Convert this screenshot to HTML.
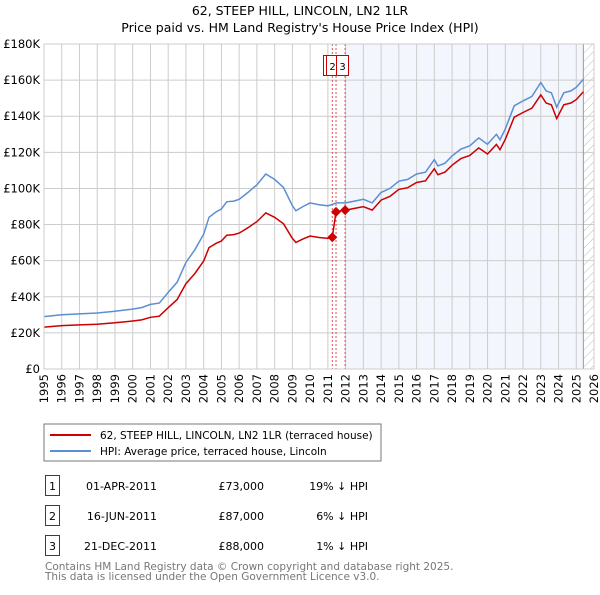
<!DOCTYPE html>
<html><head><meta charset="utf-8"><style>
body{margin:0;background:#fff;font-family:"Liberation Sans","DejaVu Sans",sans-serif;}
svg text{font-family:"DejaVu Sans","Liberation Sans",sans-serif;}
</style></head><body>
<svg id="c" width="600" height="590" xmlns="http://www.w3.org/2000/svg">
<defs><pattern id="hatch" width="6" height="6" patternUnits="userSpaceOnUse" patternTransform="rotate(45)"><line x1="0" y1="0" x2="0" y2="6" stroke="#bbb" stroke-width="1"/></pattern></defs>
<text x="300" y="15" text-anchor="middle" font-size="12.5" fill="#000">62, STEEP HILL, LINCOLN, LN2 1LR</text>
<text x="300" y="32" text-anchor="middle" font-size="12.5" fill="#000">Price paid vs. HM Land Registry's House Price Index (HPI)</text>
<g id="plot"></g>
<rect x="44" y="424" width="337" height="37" fill="#fff" stroke="#777"/>
<line x1="50" y1="435" x2="91" y2="435" stroke="#cc0000" stroke-width="2"/>
<text x="100" y="439" font-size="10.5">62, STEEP HILL, LINCOLN, LN2 1LR (terraced house)</text>
<line x1="50" y1="451" x2="91" y2="451" stroke="#5b8fd4" stroke-width="2"/>
<text x="100" y="455" font-size="10.5">HPI: Average price, terraced house, Lincoln</text>
<g font-size="11">
<rect x="45.5" y="475.5" width="14" height="20" fill="#fff" stroke="#cc0000"/><text x="52.5" y="490" text-anchor="middle">1</text>
<text x="157" y="490" text-anchor="end">01-APR-2011</text><text x="264" y="490" text-anchor="end">£73,000</text><text x="368" y="490" text-anchor="end">19% ↓ HPI</text>
<rect x="45.5" y="505.5" width="14" height="20" fill="#fff" stroke="#cc0000"/><text x="52.5" y="520" text-anchor="middle">2</text>
<text x="157" y="520" text-anchor="end">16-JUN-2011</text><text x="264" y="520" text-anchor="end">£87,000</text><text x="368" y="520" text-anchor="end">6% ↓ HPI</text>
<rect x="45.5" y="535.5" width="14" height="20" fill="#fff" stroke="#cc0000"/><text x="52.5" y="550" text-anchor="middle">3</text>
<text x="157" y="550" text-anchor="end">21-DEC-2011</text><text x="264" y="550" text-anchor="end">£88,000</text><text x="368" y="550" text-anchor="end">1% ↓ HPI</text>
</g>
<text x="45" y="570" font-size="10.5" fill="#777">Contains HM Land Registry data © Crown copyright and database right 2025.</text>
<text x="45" y="580" font-size="10.5" fill="#777">This data is licensed under the Open Government Licence v3.0.</text>
</svg>
<script>
const hpiYears=[1995,1996,1997,1998,1999,2000,2000.5,2001,2001.5,2002,2002.5,2003,2003.5,2004,2004.3,2004.7,2005,2005.3,2005.7,2006,2006.5,2007,2007.5,2008,2008.5,2009,2009.2,2009.6,2010,2010.5,2011,2011.5,2012,2012.5,2013,2013.5,2014,2014.5,2015,2015.5,2016,2016.5,2017,2017.2,2017.6,2018,2018.5,2019,2019.5,2020,2020.5,2020.7,2021,2021.5,2022,2022.5,2023,2023.3,2023.6,2023.9,2024.3,2024.7,2025,2025.4];
const hpiValues=[29,30,30.5,31,32,33.2,34,35.8,36.5,42.4,48,59,66,74.7,84,87,88.6,92.6,93,94,97.8,102,108,105,100.5,90.4,87.6,90,92,91,90.4,92,92,93,94,92,97.8,100,104,105,108,109,116,112.5,114,118,121.8,123.6,128,124.5,130,127,133,145.8,148.5,151,158.7,154,153,145,153,154,156,160.5];
const saleDates=[2011.25,2011.46,2011.97];
const salePrices=[73,87,88];
const saleLabels=['1','2','3'];
const yTicks=[0,20,40,60,80,100,120,140,160,180];
const yTickLabels=['£0','£20K','£40K','£60K','£80K','£100K','£120K','£140K','£160K','£180K'];
const xTicks=[1995,1996,1997,1998,1999,2000,2001,2002,2003,2004,2005,2006,2007,2008,2009,2010,2011,2012,2013,2014,2015,2016,2017,2018,2019,2020,2021,2022,2023,2024,2025,2026];
const L=44,R=594,T=44,B=369;
const X=v=>L+(v-1995)/31*(R-L);
const Y=v=>B-v/180*(B-T);
const NS='http://www.w3.org/2000/svg';
const g=document.getElementById('plot');
function mk(t,a,p){const e=document.createElementNS(NS,t);for(const k in a)e.setAttribute(k,a[k]);(p||g).appendChild(e);return e;}
let e;
e=mk('rect',{x:X(2011.97),y:T,width:X(2025.4)-X(2011.97),height:B-T,fill:'#f3f6fd'});


e=mk('rect',{x:X(2025.4),y:T,width:R-X(2025.4),height:B-T,fill:'url(#hatch)'});


xTicks.forEach(v=>{
 e=mk('line',{x1:X(v),y1:T,x2:X(v),y2:B,stroke:'#ccc','stroke-width':1});
 
 
 e=mk('text',{x:0,y:0,'font-size':'11.5','text-anchor':'end',transform:`translate(${X(v)+4},${B+5}) rotate(-90)`});
 e.textContent=v;
 
 
});
yTicks.forEach((v,i)=>{
 e=mk('line',{x1:L,y1:Y(v),x2:R,y2:Y(v),stroke:'#ccc','stroke-width':1});
 
 
 e=mk('text',{x:L-4,y:Y(v)+4,'font-size':'11.5','text-anchor':'end'});
 e.textContent=yTickLabels[i];
 
 
});
e=mk('line',{x1:X(2025.4),y1:T,x2:X(2025.4),y2:B,stroke:'#999','stroke-width':1});


saleDates.forEach(d=>{
 e=mk('line',{x1:X(d),y1:T,x2:X(d),y2:B,stroke:'#e05050','stroke-width':1,'stroke-dasharray':'2,2'});
 
 
});
function hpiAt(d){for(let i=0;i<hpiYears.length-1;i++){if(d<=hpiYears[i+1]){const t=(d-hpiYears[i])/(hpiYears[i+1]-hpiYears[i]);return hpiValues[i]+t*(hpiValues[i+1]-hpiValues[i]);}}return hpiValues[hpiValues.length-1];}
let hp=hpiYears.map((d,i)=>X(d).toFixed(1)+','+Y(hpiValues[i]).toFixed(1)).join(' ');
e=mk('polyline',{points:hp,fill:'none',stroke:'#5b8fd4','stroke-width':1.5});


let pts=[];
function ratio(k){return salePrices[k]/hpiAt(saleDates[k]);}
hpiYears.forEach((d,i)=>{
 if(d<saleDates[0])pts.push([d,hpiValues[i]*ratio(0)]);
});
saleDates.forEach((d,k)=>{
 pts.push([d,salePrices[k]]);
 hpiYears.forEach((dd,i)=>{const nxt=k+1<saleDates.length?saleDates[k+1]:9999;if(dd>d&&dd<nxt)pts.push([dd,hpiValues[i]*ratio(k)]);});
});
e=mk('polyline',{points:pts.map(p=>X(p[0]).toFixed(1)+','+Y(p[1]).toFixed(1)).join(' '),fill:'none',stroke:'#cc0000','stroke-width':1.5});


saleDates.forEach((d,k)=>{
 const cx=X(d),cy=Y(salePrices[k]);
 e=mk('polygon',{points:`${cx},${cy-5} ${cx+5},${cy} ${cx},${cy+5} ${cx-5},${cy}`,fill:'#cc0000'});
 
 
});
[[323,'1'],[326,'2'],[336,'3']].forEach(a=>{
 const x=a[0];
 e=mk('rect',{x:x+0.5,y:55.5,width:12,height:20,fill:'#fff',stroke:'#cc0000'});
 
 
 e=mk('text',{x:x+6.5,y:70,'font-size':'10','text-anchor':'middle'});
 e.textContent=a[1];
 
 
});
e=mk('rect',{x:L,y:T,width:R-L,height:B-T,fill:'none',stroke:'#ccc'});


</script>
</body></html>
